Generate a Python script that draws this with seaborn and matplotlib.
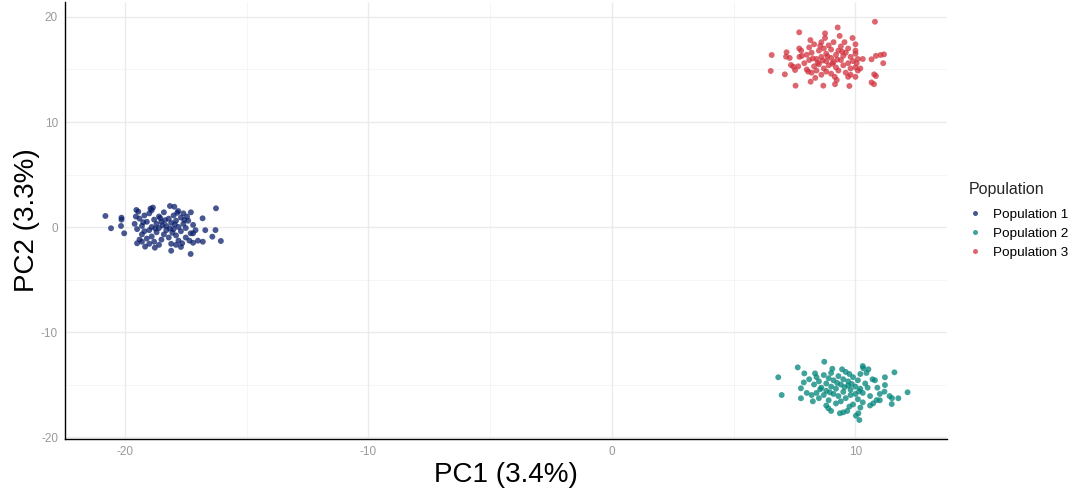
import pandas as pd
import matplotlib.pyplot as plt
import seaborn as sb

# PC coordinates, one pair of lists per population
pop1_x = [-20.8, -20.57, -20.14, -20.14, -20.16, -20.03, -19.53, -19.45, -18.95, -18.85,
          -18.15, -17.97, -17.81, -17.6, -17.29, -17.56, -16.81, -16.26, -16.28, -16.7,
          -17.1, -17.2, -16.41, -16.06, -16.8, -17.0, -17.2, -17.3, -18.1, -17.7,
          -17.9, -18.77, -19.17, -19.5, -19.3,
          -19.6, -19.5, -19.4, -19.3, -19.3, -19.2, -19.1, -19.1, -19.0, -19.0,
          -18.9, -18.9, -18.8, -18.8, -18.7, -18.7, -18.6, -18.6, -18.5, -18.5,
          -18.4, -18.4, -18.3, -18.3, -18.2, -18.2, -18.1, -18.1, -18.0, -18.0,
          -17.9, -17.9, -17.8, -17.8, -17.7, -17.7, -17.6, -17.5, -17.5, -17.4,
          -17.3, -17.2, -19.4, -19.2, -18.9, -18.6, -18.35, -18.05, -17.85, -17.65,
          -19.55, -19.0, -18.75, -18.45, -18.15, -17.95, -17.45, -17.35, -19.25, -18.55]
pop1_y = [1.05, -0.12, 0.89, 0.7, 0.1, -0.6, 1.62, 1.46, 1.75, 1.85,
          2.0, 1.93, 1.52, 1.3, 1.4, 0.67, 0.83, 1.78, -0.29, -0.3,
          -0.3, -0.6, -0.92, -1.33, -1.4, -1.3, -1.5, -2.57, -2.26, -1.9,
          -1.7, -1.97, -1.87, -1.55, -1.4,
          0.3, -0.2, 0.8, -0.7, 0.1, 1.1, -1.1, 0.5, -0.3, 1.3,
          0.0, -0.9, 0.7, -1.4, 0.3, -0.5, 1.0, -0.1, -1.2, 0.5,
          -0.7, 1.4, 0.1, -0.3, 0.8, -1.0, 0.4, -1.6, -0.2, 1.1,
          0.6, -0.8, 0.0, -1.3, 0.9, -0.4, 0.3, -1.0, -0.1, 0.6,
          -0.6, 0.2, -1.2, -0.4, 1.6, -1.7, 0.65, -0.55, 1.35, -1.55,
          1.0, -1.6, -0.15, 0.15, -0.15, 0.25, 1.0, -1.3, 0.45, 0.85]

pop2_x = [6.83, 6.97, 7.63, 7.9, 7.88, 7.76, 7.76, 8.34, 8.72, 8.0,
          8.2, 8.89, 9.0, 9.36, 9.5, 9.66, 10.12, 10.02, 10.16, 10.3,
          10.32, 10.53, 9.75, 10.8, 11.21, 11.6, 11.21, 11.19, 11.0, 11.4,
          11.5, 11.76, 12.14, 11.49, 10.87, 10.73, 10.2,
          8.3, 8.4, 8.4, 8.5, 8.5, 8.6, 8.7, 8.7, 8.8, 8.8,
          8.9, 8.9, 9.0, 9.0, 9.1, 9.1, 9.2, 9.2, 9.3, 9.3,
          9.4, 9.4, 9.5, 9.5, 9.6, 9.6, 9.7, 9.7, 9.8, 9.8,
          9.9, 9.9, 10.0, 10.0, 10.1, 10.1, 10.2, 10.2, 10.3, 10.3,
          10.4, 10.5, 10.6, 10.7, 8.55, 8.95, 9.25, 9.55, 9.85, 10.15,
          9.45, 8.25, 10.45, 9.75, 8.8, 10.9, 11.0, 8.1, 10.6, 9.05]
pop2_y = [-14.31, -16.0, -13.37, -13.94, -14.8, -15.36, -16.31, -13.94, -12.83, -15.8,
          -16.0, -17.27, -17.52, -17.74, -17.65, -17.52, -17.74, -17.97, -18.38, -13.24,
          -13.45, -13.55, -14.0, -14.6, -14.31, -13.84, -15.05, -15.68, -15.9, -16.1,
          -16.3, -16.31, -15.74, -16.86, -16.48, -16.79, -17.2,
          -15.0, -14.3, -15.8, -14.7, -16.3, -15.3, -14.1, -16.0, -14.9, -15.6,
          -14.4, -16.5, -15.2, -13.9, -15.9, -14.6, -16.8, -15.4, -14.2, -16.1,
          -15.0, -16.6, -14.5, -15.7, -13.8, -16.3, -15.1, -14.7, -16.0, -15.5,
          -14.3, -16.9, -15.2, -15.9, -14.6, -16.4, -15.4, -14.0, -15.8, -16.7,
          -14.9, -15.3, -16.1, -14.5, -15.45, -15.75, -14.85, -15.25, -14.95, -15.65,
          -13.55, -16.6, -13.9, -17.1, -17.0, -15.3, -16.5, -14.5, -17.0, -13.5]

pop3_x = [6.56, 6.52, 7.1, 7.54, 7.69, 7.17, 7.15, 7.3, 7.35, 7.45,
          7.52, 7.65, 7.69, 7.77, 7.7, 7.8, 8.16, 8.06, 8.68, 9.27,
          8.75, 9.23, 9.16, 9.75, 9.7, 9.8, 10.0, 10.8, 10.66, 10.77,
          10.84, 10.66, 10.76, 10.84, 11.03, 11.17, 11.14, 9.88, 10.0, 10.0,
          10.1, 10.05, 10.0, 10.1,
          7.9, 8.0, 8.0, 8.1, 8.1, 8.2, 8.2, 8.3, 8.3, 8.4,
          8.4, 8.5, 8.5, 8.6, 8.6, 8.6, 8.7, 8.7, 8.8, 8.8,
          8.8, 8.9, 8.9, 9.0, 9.0, 9.0, 9.1, 9.1, 9.2, 9.2,
          9.3, 9.3, 9.4, 9.4, 9.5, 9.5, 9.6, 9.6, 9.7, 9.7,
          9.8, 9.8, 9.9, 10.0, 8.25, 8.45, 8.65, 8.85, 9.05, 9.25,
          9.45, 8.55, 9.15, 8.35, 9.55, 8.75, 9.35, 8.15, 10.3, 10.2]
pop3_y = [16.38, 14.86, 14.54, 13.46, 18.54, 16.64, 16.22, 16.1, 15.43, 15.27,
          14.95, 15.3, 17.0, 16.8, 16.2, 16.3, 13.84, 14.8, 13.46, 19.0,
          18.44, 14.0, 13.6, 13.43, 14.3, 14.5, 14.3, 19.55, 15.97, 14.54,
          14.38, 13.77, 13.6, 16.3, 16.38, 16.44, 15.6, 18.0, 17.4, 16.8,
          16.0, 15.6, 15.2, 14.9,
          15.6, 16.4, 15.0, 17.1, 15.9, 14.7, 16.6, 15.3, 17.4, 16.0,
          14.9, 16.8, 15.5, 17.6, 14.5, 16.2, 15.1, 17.0, 15.8, 16.5,
          14.8, 17.3, 15.4, 16.1, 14.6, 16.9, 15.7, 17.6, 15.2, 16.4,
          14.9, 16.8, 15.9, 17.2, 15.4, 16.3, 14.7, 16.6, 15.6, 17.0,
          15.1, 16.2, 15.8, 16.5, 16.05, 15.65, 15.85, 16.25, 15.55, 15.95,
          16.7, 17.25, 14.3, 14.2, 17.6, 18.0, 18.2, 17.8, 16.0, 15.1]

labels = ['Population 1', 'Population 2', 'Population 3']
colors = {'Population 1': '#0b1f6b', 'Population 2': '#00857a', 'Population 3': '#d1313e'}

df = pd.concat([
    pd.DataFrame({'PC1': pop1_x, 'PC2': pop1_y, 'Population': labels[0]}),
    pd.DataFrame({'PC1': pop2_x, 'PC2': pop2_y, 'Population': labels[1]}),
    pd.DataFrame({'PC1': pop3_x, 'PC2': pop3_y, 'Population': labels[2]}),
], ignore_index=True)

sb.set_style('white')
plt.rcParams['font.family'] = ['Liberation Sans', 'DejaVu Sans']
plt.rcParams['axes.unicode_minus'] = False

fig = plt.figure(figsize=(10.78, 4.95), dpi=100)
ax = fig.add_axes([0.0603, 0.1131, 0.8182, 0.8829])

# grid like ggplot theme_minimal
for v in [-15, -5, 5]:
    ax.axvline(v, color='#f4f4f4', lw=0.6, zorder=0)
for v in [-15, -5, 5, 15]:
    ax.axhline(v, color='#f4f4f4', lw=0.6, zorder=0)
for v in [-20, -10, 0, 10]:
    ax.axvline(v, color='#ebebeb', lw=1.0, zorder=0)
for v in [-20, -10, 0, 10, 20]:
    ax.axhline(v, color='#ebebeb', lw=1.0, zorder=0)

sb.scatterplot(data=df, x='PC1', y='PC2', hue='Population', hue_order=labels,
               palette=colors, s=18, alpha=0.75, edgecolor='none', ax=ax, zorder=3)

ax.set_xlim(-22.46, 13.76)
ax.set_ylim(-20.19, 21.43)
ax.set_xticks([-20, -10, 0, 10])
ax.set_yticks([-20, -10, 0, 10, 20])
ax.tick_params(labelsize=8.5, colors='#999999', length=3, width=0.6, pad=2)
for side in ['top', 'right']:
    ax.spines[side].set_visible(False)
for side in ['left', 'bottom']:
    ax.spines[side].set_color('black')
    ax.spines[side].set_linewidth(1.0)

ax.set_xlabel('PC1 (3.4%)', fontsize=20, labelpad=3, color='black')
ax.set_ylabel('PC2 (3.3%)', fontsize=20, labelpad=1, color='black')

leg = ax.legend(title='Population', loc='center left', bbox_to_anchor=(1.018, 0.5),
                frameon=False, fontsize=9.7, title_fontsize=11.5, markerscale=0.85,
                handlelength=1.0, handletextpad=0.85, labelspacing=0.48, borderaxespad=0)
leg._legend_box.align = 'left'
leg._legend_box.sep = 8
for t in leg.get_texts():
    t.set_color('black')

fig.savefig('out.png', dpi=100)
